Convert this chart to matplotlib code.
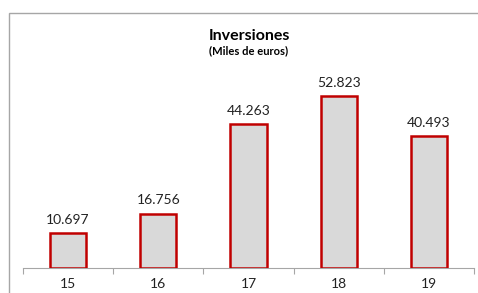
import matplotlib
matplotlib.use("Agg")
import matplotlib.pyplot as plt
from matplotlib.patches import Rectangle
import numpy as np

categories = ["15", "16", "17", "18", "19"]
values = [10697, 16756, 44263, 52823, 40493]
title = "Inversiones"
subtitle = "(Miles de euros)"

plt.rcParams['font.family'] = ['Lato', 'DejaVu Sans']

fig = plt.figure(figsize=(4.78, 2.93), dpi=100)
fig.patch.set_facecolor("white")
# outer chart frame
fig.add_artist(Rectangle((9/478, -0.1), 1.2, 1 - 13/293 + 0.1, transform=fig.transFigure,
                         fill=False, edgecolor="#a6a6a6", linewidth=1.0))

ax = fig.add_axes([23/478, 1 - 268/293, (474 - 23)/478, (268 - 73)/293])
x = np.arange(len(categories))
vals_k = [v / 1000 for v in values]
ax.bar(x, vals_k, width=0.4, color="#d9d9d9", edgecolor="#c00000", linewidth=1.8, zorder=3)

ax.set_xlim(-0.5, len(categories) - 0.5)
ax.set_ylim(0, 60)
for xi, v in zip(x, values):
    ax.text(xi, v / 1000 + 2.2, f"{v:,}".replace(",", "."), ha="center", va="bottom",
            fontsize=10, color="#222222")

for s in ["top", "right", "left"]:
    ax.spines[s].set_visible(False)
ax.spines["bottom"].set_color("#a6a6a6")
ax.set_yticks([])
ax.set_xticks(np.arange(-0.5, len(categories), 1.0), minor=False)
ax.set_xticklabels([])
ax.tick_params(axis="x", which="major", length=4, color="#a6a6a6", direction="out")
ax.set_xticks(x, minor=True)
ax.set_xticklabels(categories, minor=True)
ax.tick_params(axis="x", which="minor", length=0, labelsize=10, pad=7, labelcolor="#222222")

fig.text(249/478, 1 - 36/293, title, ha="center", va="center", fontsize=11.5, fontweight="bold")
fig.text(249/478, 1 - 51/293, subtitle, ha="center", va="center", fontsize=8, fontweight="bold")

fig.savefig("out.png", dpi=100)
